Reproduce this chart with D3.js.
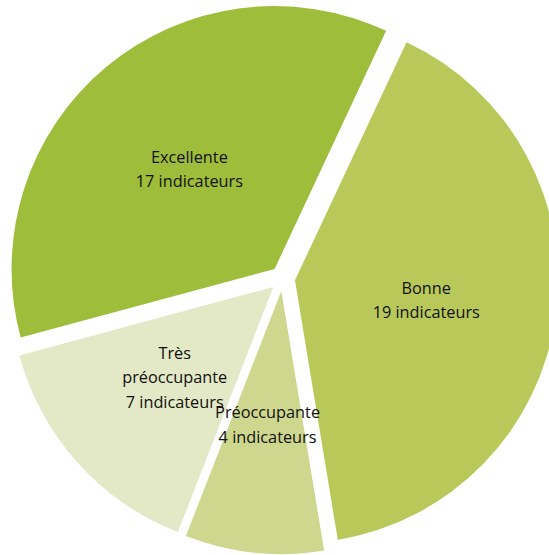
<!DOCTYPE html>
<html>
<head>
<meta charset="utf-8">
<script src="https://cdn.jsdelivr.net/npm/d3@7"></script>
<style>
  html, body { margin: 0; padding: 0; background: #fff; }
  svg { display: block; }
</style>
</head>
<body>
<svg id="chart" width="549" height="555"></svg>
<script>
// Répartition des indicateurs par état
const categories = ["Bonne", "Préoccupante", "Très préoccupante", "Excellente"];
const values = [19, 4, 7, 17];
const labelLines = [
  ["Bonne", "19 indicateurs"],
  ["Préoccupante", "4 indicateurs"],
  ["Très", "préoccupante", "7 indicateurs"],
  ["Excellente", "17 indicateurs"]
];
const colors = ["#b8c95a", "#cdd78d", "#e3e8c6", "#9ebd3b"];

const svg = d3.select("#chart");
const cx = 282.6, cy = 278.6;
const radius = 263;
const explode = 12.5;
const labelDist = 145;
const startOffset = 25.1 * Math.PI / 180;

const pie = d3.pie()
  .sort(null)
  .value(d => d)
  .startAngle(startOffset)
  .endAngle(startOffset + 2 * Math.PI);

const arcs = pie(values);
const arc = d3.arc().innerRadius(0).outerRadius(radius);

const g = svg.append("g").attr("transform", `translate(${cx},${cy})`);

function dir(d) {
  const a = (d.startAngle + d.endAngle) / 2;
  return [Math.sin(a), -Math.cos(a)];
}

g.selectAll("path.slice")
  .data(arcs)
  .join("path")
  .attr("class", "slice")
  .attr("d", arc)
  .attr("fill", (d, i) => colors[i])
  .attr("transform", d => {
    const [ux, uy] = dir(d);
    return `translate(${ux * explode},${uy * explode})`;
  });

const fontSize = 16.3;
const lineH = 24.5;
const labels = g.selectAll("text.lbl")
  .data(arcs)
  .join("text")
  .attr("class", "lbl")
  .attr("text-anchor", "middle")
  .attr("font-family", "'Open Sans', 'Noto Sans', sans-serif")
  .attr("font-size", fontSize)
  .attr("fill", "#111")
  .attr("transform", d => {
    const [ux, uy] = dir(d);
    return `translate(${ux * labelDist},${uy * labelDist + 2})`;
  });

labels.each(function(d, i) {
  const lines = labelLines[i];
  const t = d3.select(this);
  const y0 = -(lines.length - 1) * lineH / 2;
  lines.forEach((s, k) => {
    t.append("tspan")
      .attr("x", 0)
      .attr("y", y0 + k * lineH)
      .attr("dy", "0.35em")
      .text(s);
  });
});
</script>
</body>
</html>
